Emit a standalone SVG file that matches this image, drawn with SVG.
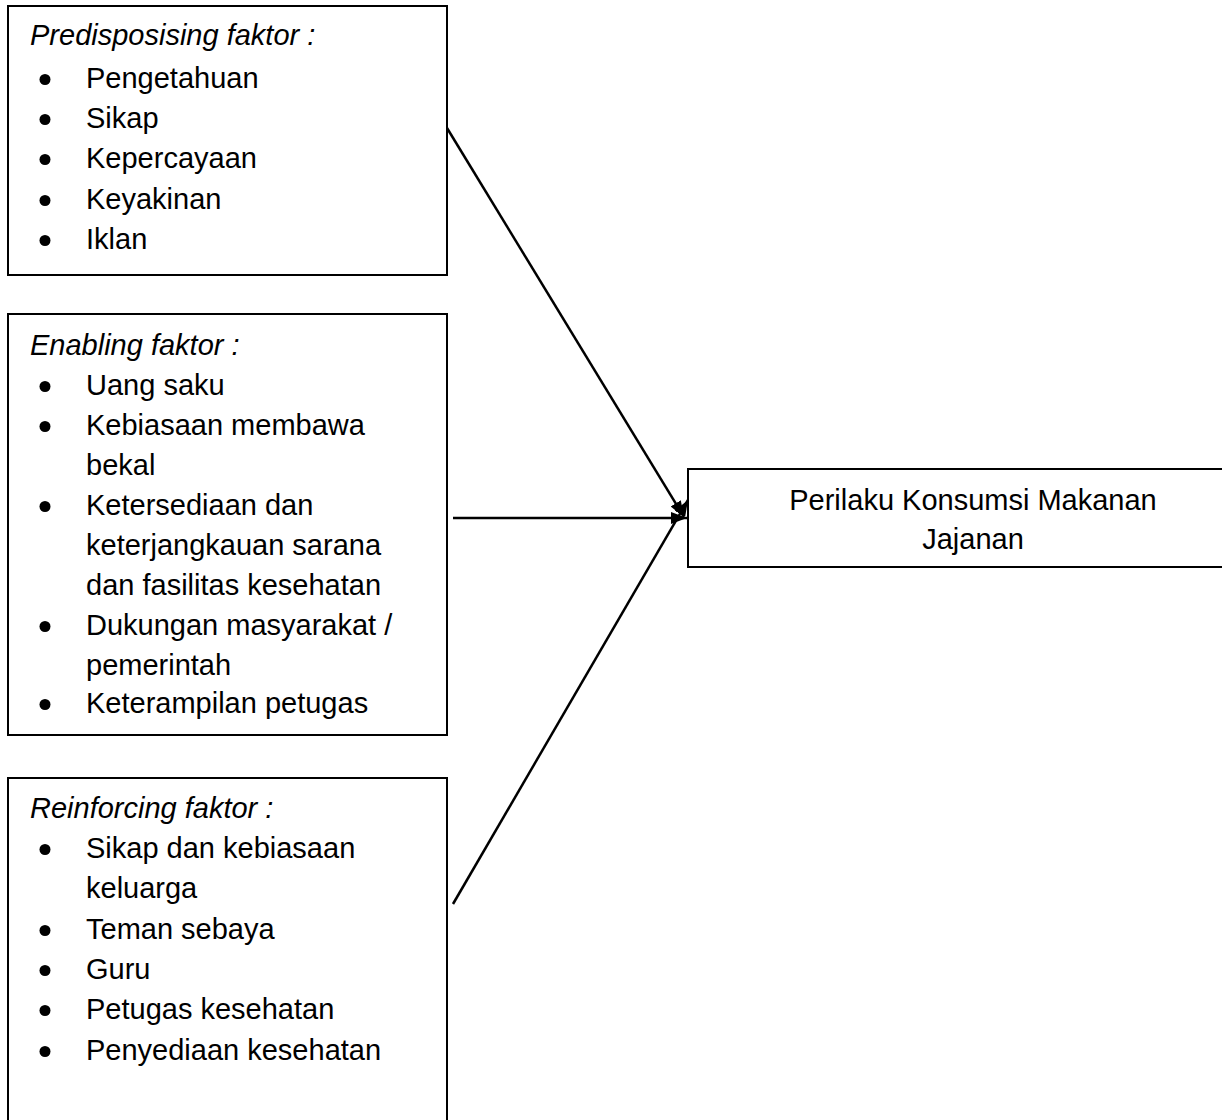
<svg xmlns="http://www.w3.org/2000/svg" width="1222" height="1120" viewBox="0 0 1222 1120">
<style>
.box{fill:#fff;stroke:#000;stroke-width:2}
.t{font-family:"Liberation Sans",Arial,sans-serif;font-size:29px;fill:#000}
.i{font-style:italic}
.c{text-anchor:middle}
.b{fill:#000}
.ln{stroke:#000;stroke-width:2.5;fill:none}
</style>
<defs>
<marker id="ah" viewBox="0 0 16 12" refX="16" refY="6" markerWidth="16" markerHeight="12" markerUnits="userSpaceOnUse" orient="auto">
<path d="M0,0 L16,6 L0,12 z" fill="#000"/>
</marker>
</defs>
<rect width="1222" height="1120" fill="#fff"/>
<g id="predisposing">
<rect class="box" x="8" y="6" width="439" height="269"/>
<text class="t i" x="30" y="45">Predisposising faktor :</text>
<circle class="b" cx="45" cy="79.5" r="5.5"/><text class="t" x="86" y="88">Pengetahuan</text>
<circle class="b" cx="45" cy="119.5" r="5.5"/><text class="t" x="86" y="128">Sikap</text>
<circle class="b" cx="45" cy="159.5" r="5.5"/><text class="t" x="86" y="168">Kepercayaan</text>
<circle class="b" cx="45" cy="200.5" r="5.5"/><text class="t" x="86" y="209">Keyakinan</text>
<circle class="b" cx="45" cy="240.5" r="5.5"/><text class="t" x="86" y="249">Iklan</text>
</g>
<g id="enabling">
<rect class="box" x="8" y="314" width="439" height="421"/>
<text class="t i" x="30" y="355">Enabling faktor :</text>
<circle class="b" cx="45" cy="386.5" r="5.5"/><text class="t" x="86" y="395">Uang saku</text>
<circle class="b" cx="45" cy="426.5" r="5.5"/><text class="t" x="86" y="435">Kebiasaan membawa</text>
<text class="t" x="86" y="475">bekal</text>
<circle class="b" cx="45" cy="506.5" r="5.5"/><text class="t" x="86" y="515">Ketersediaan dan</text>
<text class="t" x="86" y="555">keterjangkauan sarana</text>
<text class="t" x="86" y="595">dan fasilitas kesehatan</text>
<circle class="b" cx="45" cy="626.5" r="5.5"/><text class="t" x="86" y="635">Dukungan masyarakat /</text>
<text class="t" x="86" y="675">pemerintah</text>
<circle class="b" cx="45" cy="704.5" r="5.5"/><text class="t" x="86" y="713">Keterampilan petugas</text>
</g>
<g id="reinforcing">
<rect class="box" x="8" y="778" width="439" height="360"/>
<text class="t i" x="30" y="818">Reinforcing  faktor :</text>
<circle class="b" cx="45" cy="849.5" r="5.5"/><text class="t" x="86" y="858">Sikap dan kebiasaan</text>
<text class="t" x="86" y="898">keluarga</text>
<circle class="b" cx="45" cy="930.5" r="5.5"/><text class="t" x="86" y="939">Teman sebaya</text>
<circle class="b" cx="45" cy="970.5" r="5.5"/><text class="t" x="86" y="979">Guru</text>
<circle class="b" cx="45" cy="1010.5" r="5.5"/><text class="t" x="86" y="1019">Petugas kesehatan</text>
<circle class="b" cx="45" cy="1051.5" r="5.5"/><text class="t" x="86" y="1060">Penyediaan kesehatan</text>
</g>
<g id="perilaku">
<rect class="box" x="688" y="469" width="545" height="98"/>
<text class="t c" x="973" y="510">Perilaku Konsumsi Makanan</text>
<text class="t c" x="973" y="549">Jajanan</text>
</g>
<g id="connectors">
<line class="ln" x1="447" y1="128" x2="684" y2="517" marker-end="url(#ah)"/>
<line class="ln" x1="453" y1="518" x2="687" y2="518" marker-end="url(#ah)"/>
<line class="ln" x1="453" y1="904" x2="688" y2="500" marker-end="url(#ah)"/>
</g>
</svg>
